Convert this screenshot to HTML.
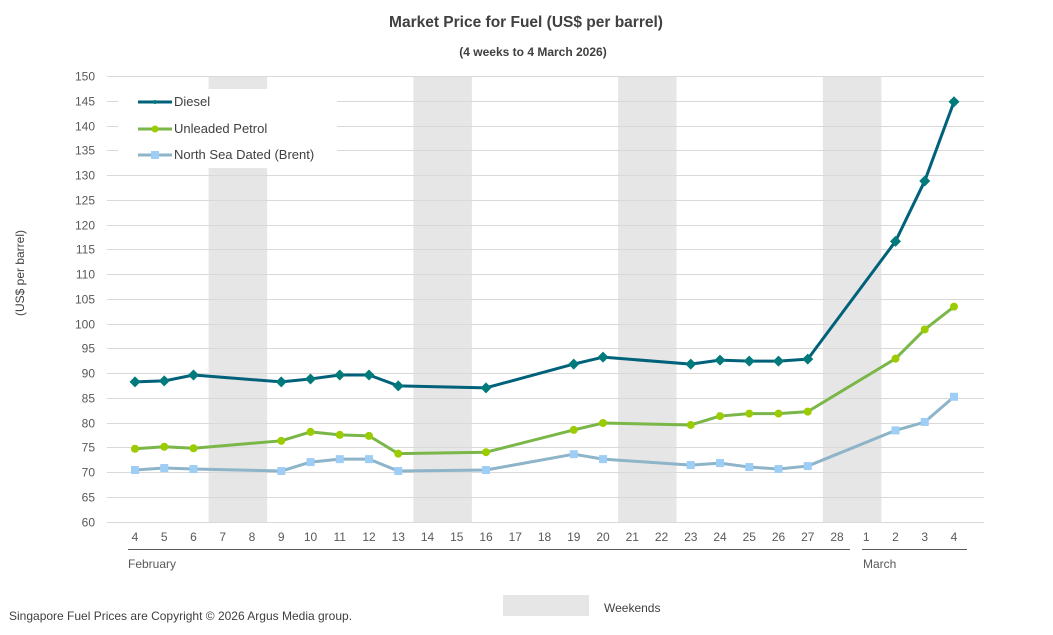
<!DOCTYPE html>
<html><head><meta charset="utf-8"><style>
html,body{margin:0;padding:0;background:#fff;}
svg{display:block;font-family:"Liberation Sans",Arial,sans-serif;}
</style></head><body>
<svg width="1053" height="635" viewBox="0 0 1053 635" xmlns="http://www.w3.org/2000/svg">
<text x="526" y="27" text-anchor="middle" font-size="15.5" font-weight="bold" fill="#404040">Market Price for Fuel (US$ per barrel)</text>
<text x="533" y="56" text-anchor="middle" font-size="12" font-weight="bold" fill="#404040">(4 weeks to 4 March 2026)</text>
<g fill="#e6e6e6">
<rect x="208.6" y="76" width="58.5" height="446"/>
<rect x="413.4" y="76" width="58.5" height="446"/>
<rect x="618.1" y="76" width="58.5" height="446"/>
<rect x="822.9" y="76" width="58.5" height="446"/>
</g>
<g id="grid" stroke="#d9d9d9" stroke-width="1"></g>
<g id="ylab" font-size="12" fill="#595959" text-anchor="end"></g>
<rect x="118" y="89" width="219" height="79" fill="#fff"/>
<text transform="translate(24,273) rotate(-90)" text-anchor="middle" font-size="12" fill="#404040">(US$ per barrel)</text>
<g id="xlab" font-size="12" fill="#595959" text-anchor="middle"></g>
<line x1="128" y1="549.5" x2="850" y2="549.5" stroke="#595959" stroke-width="1"/>
<line x1="862" y1="549.5" x2="967" y2="549.5" stroke="#595959" stroke-width="1"/>
<text x="128" y="568" font-size="12" fill="#595959">February</text>
<text x="863" y="568" font-size="12" fill="#595959">March</text>
<g id="series"></g>
<g font-size="13" fill="#404040">
<line x1="138" y1="102" x2="172" y2="102" stroke="#00627a" stroke-width="3"/><circle cx="155" cy="102" r="2" fill="#007a7a"/>
<text x="174" y="106">Diesel</text>
<line x1="138" y1="129" x2="172" y2="129" stroke="#7ab648" stroke-width="3"/><circle cx="155" cy="129" r="3.5" fill="#9ccc00"/>
<text x="174" y="133">Unleaded Petrol</text>
<line x1="138" y1="155" x2="172" y2="155" stroke="#8db4c8" stroke-width="3"/><rect x="151" y="151" width="8" height="8" fill="#9ecdf5"/>
<text x="174" y="159">North Sea Dated (Brent)</text>
</g>
<rect x="503" y="595" width="86" height="21" fill="#e6e6e6"/>
<text x="604" y="612" font-size="12" fill="#404040">Weekends</text>
<text x="9" y="620" font-size="12" fill="#404040">Singapore Fuel Prices are Copyright © 2026 Argus Media group.</text>
</svg>
<script>
var NS="http://www.w3.org/2000/svg";
function el(t,a,p){var e=document.createElementNS(NS,t);for(var k in a)e.setAttribute(k,a[k]);p.appendChild(e);return e;}
function Y(v){return 521.5-(v-60)*4.95;}
function X(i){return 135+29.25*i;}
var g=document.getElementById("grid"),yl=document.getElementById("ylab"),xl=document.getElementById("xlab");
for(var v=60;v<=150;v+=5){var y=Math.round(Y(v))+0.5;el("line",{x1:107,y1:y,x2:984,y2:y},g);var t=el("text",{x:95,y:y+4},yl);t.textContent=v;}
var labs=[4,5,6,7,8,9,10,11,12,13,14,15,16,17,18,19,20,21,22,23,24,25,26,27,28,1,2,3,4];
labs.forEach(function(l,i){var t=el("text",{x:X(i),y:541},xl);t.textContent=l;});
var idx=[0,1,2,5,6,7,8,9,12,15,16,19,20,21,22,23,26,27,28];
var D=[88.2,88.4,89.6,88.2,88.8,89.6,89.6,87.4,87.0,91.8,93.2,91.8,92.6,92.4,92.4,92.8,116.6,128.8,144.8];
var P=[74.7,75.1,74.8,76.3,78.1,77.5,77.3,73.7,74.0,78.5,79.9,79.5,81.3,81.8,81.8,82.2,92.9,98.8,103.4];
var B=[70.4,70.8,70.6,70.2,72.0,72.6,72.6,70.2,70.4,73.6,72.6,71.4,71.8,71.0,70.6,71.2,78.4,80.1,85.2];
var s=document.getElementById("series");
function line(d,c){el("polyline",{points:d.map(function(v,k){return X(idx[k])+","+Y(v);}).join(" "),fill:"none",stroke:c,"stroke-width":3,"stroke-linejoin":"round"},s);}
line(B,"#8db4c8");line(P,"#7ab648");line(D,"#00627a");
B.forEach(function(v,k){el("rect",{x:X(idx[k])-4,y:Y(v)-4,width:8,height:8,fill:"#9ecdf5"},s);});
P.forEach(function(v,k){el("circle",{cx:X(idx[k]),cy:Y(v),r:4,fill:"#9ccc00"},s);});
D.forEach(function(v,k){var x=X(idx[k]),y=Y(v);el("polygon",{points:(x-5.5)+","+y+" "+x+","+(y-5.5)+" "+(x+5.5)+","+y+" "+x+","+(y+5.5),fill:"#007a7a"},s);});
</script>
</body></html>
